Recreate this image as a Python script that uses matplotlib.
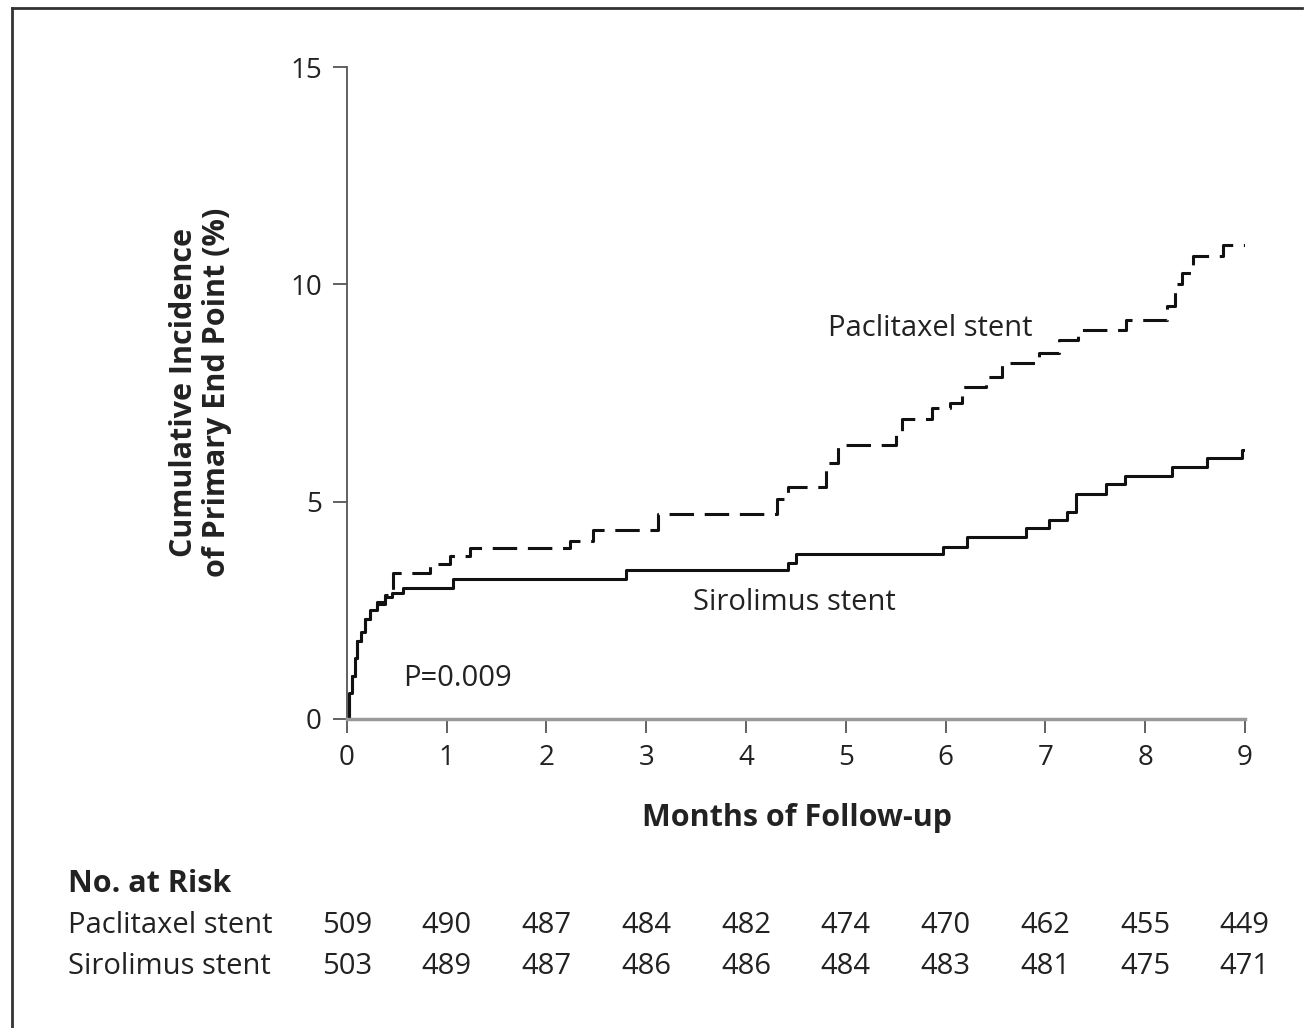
import matplotlib
matplotlib.use("Agg")
import matplotlib.pyplot as plt
from matplotlib.lines import Line2D
from matplotlib.transforms import blended_transform_factory

plt.rcParams['font.family'] = ['Open Sans', 'DejaVu Sans']

# cumulative incidence (%), step changes at these months
sir_t = [0, 0.02, 0.05, 0.08, 0.1, 0.14, 0.18, 0.23, 0.3, 0.38, 0.45, 0.56, 1.06,
         2.8, 4.42, 4.5, 5.97, 6.22, 6.81, 7.04, 7.22, 7.31, 7.61, 7.8, 8.27,
         8.62, 8.97, 9.0]
sir_v = [0, 0.6, 1.0, 1.4, 1.8, 2.0, 2.3, 2.5, 2.65, 2.8, 2.9, 3.02, 3.22,
         3.42, 3.6, 3.8, 3.95, 4.18, 4.39, 4.57, 4.76, 5.17, 5.4, 5.59, 5.8,
         6.0, 6.18, 6.18]

pac_t = [0, 0.02, 0.05, 0.08, 0.1, 0.14, 0.18, 0.23, 0.3, 0.38, 0.46, 0.83,
         1.03, 1.23, 2.24, 2.47, 3.12, 4.31, 4.42, 4.8, 4.92, 5.5, 5.56, 5.86,
         6.04, 6.17, 6.41, 6.57, 6.94, 7.14, 7.33, 7.81, 8.22, 8.3, 8.37, 8.48,
         8.78, 9.0]
pac_v = [0, 0.6, 1.0, 1.4, 1.8, 2.0, 2.3, 2.5, 2.7, 2.85, 3.36, 3.56,
         3.75, 3.93, 4.1, 4.34, 4.71, 5.05, 5.33, 5.9, 6.3, 6.53, 6.9, 7.15,
         7.26, 7.63, 7.86, 8.18, 8.43, 8.71, 8.94, 9.17, 9.5, 10.0, 10.25, 10.65,
         10.9, 10.9]

months = list(range(10))
yticks = [0, 5, 10, 15]
risk_pac = [509, 490, 487, 484, 482, 474, 470, 462, 455, 449]
risk_sir = [503, 489, 487, 486, 486, 484, 483, 481, 475, 471]

fig = plt.figure(figsize=(13.09, 10.28), dpi=100)
ax = fig.add_axes([0.265, 0.3006, 0.686, 0.6342])

ax.plot(sir_t, sir_v, drawstyle='steps-post', color='#111111', lw=2.2)
ax.plot(pac_t, pac_v, drawstyle='steps-post', color='#111111', lw=2.2,
        linestyle=(0, (8, 3.5)))

ax.set_xlim(0, 9)
ax.set_ylim(0, 15)
ax.set_xticks(months)
ax.set_yticks(yticks)
for s in ['top', 'right']:
    ax.spines[s].set_visible(False)
ax.spines['left'].set_color('#555555')
ax.spines['left'].set_linewidth(1.3)
ax.spines['bottom'].set_color('#999999')
ax.spines['bottom'].set_linewidth(2.5)
ax.tick_params(axis='both', direction='out', length=10, width=1.3,
               colors='#555555', labelcolor='#222222', labelsize=20, pad=8)

ax.text(5.85, 8.99, 'Paclitaxel stent', fontsize=21, color='#222222',
        ha='center', va='center')
ax.text(4.49, 2.69, 'Sirolimus stent', fontsize=21, color='#222222',
        ha='center', va='center')
ax.text(1.11, 0.92, 'P=0.009', fontsize=21, color='#222222',
        ha='center', va='center')

fig.text(0.609, 0.204, 'Months of Follow-up', fontsize=22, fontweight='bold',
         color='#222222', ha='center', va='center')
fig.text(0.153, 0.618, 'Cumulative Incidence\nof Primary End Point (%)',
         fontsize=22, fontweight='bold', color='#222222', rotation=90,
         ha='center', va='center', multialignment='center', linespacing=1.15)

# number at risk table
fig.text(0.052, 0.140, 'No. at Risk', fontsize=22, fontweight='bold',
         color='#222222', ha='left', va='center')
fig.text(0.052, 0.100, 'Paclitaxel stent', fontsize=21, color='#222222',
         ha='left', va='center')
fig.text(0.052, 0.060, 'Sirolimus stent', fontsize=21, color='#222222',
         ha='left', va='center')
tr = blended_transform_factory(ax.transData, fig.transFigure)
for m, p, s in zip(months, risk_pac, risk_sir):
    ax.text(m, 0.100, str(p), transform=tr, fontsize=21, color='#222222',
            ha='center', va='center', clip_on=False)
    ax.text(m, 0.060, str(s), transform=tr, fontsize=21, color='#222222',
            ha='center', va='center', clip_on=False)

# frame around the figure panel
fig.add_artist(Line2D([0.009, 0.009], [0.0, 0.992], color='#333333', lw=2))
fig.add_artist(Line2D([0.009, 0.995], [0.992, 0.992], color='#333333', lw=2))

fig.savefig('out.png', dpi=100)
